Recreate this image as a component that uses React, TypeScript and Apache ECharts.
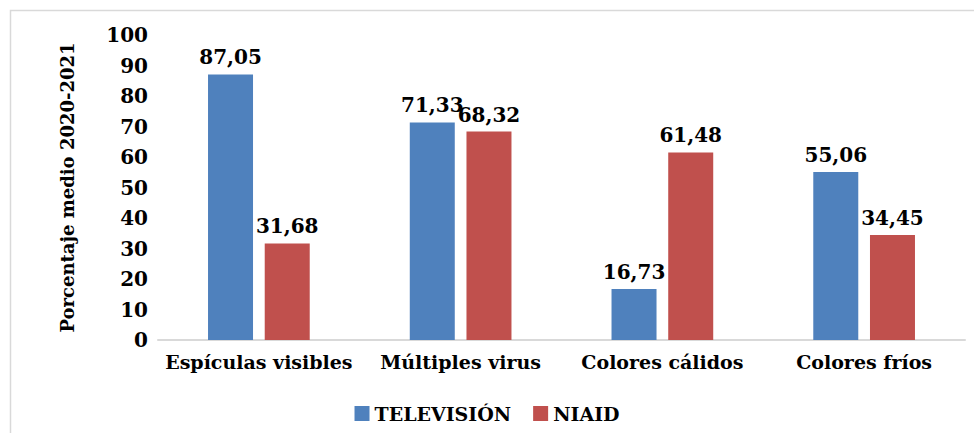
import React, { useEffect, useRef } from "react";
import * as echarts from "echarts";

const categories = ["Espículas visibles", "Múltiples virus", "Colores cálidos", "Colores fríos"];
const television = [87.05, 71.33, 16.73, 55.06];
const niaid = [31.68, 68.32, 61.48, 34.45];
const seriesNames = ["TELEVISIÓN", "NIAID"];

const FONT = "'DejaVu Serif', serif";

export default function App() {
  const ref = useRef<HTMLDivElement>(null);
  useEffect(() => {
    const chart = echarts.init(ref.current!, null, { renderer: "svg" });
    const fmt = (p: any) => Number(p.value).toFixed(2).replace(".", ",");
    const label = {
      show: true,
      position: "top" as const,
      formatter: fmt,
      fontFamily: FONT,
      fontWeight: "bold" as const,
      fontSize: 20,
      color: "#000",
      distance: 7,
    };
    chart.setOption({
      animation: false,
      backgroundColor: "#fff",
      graphic: [
        {
          type: "rect",
          shape: { x: 10.5, y: 10.5, width: 1000, height: 500 },
          style: { fill: "none", stroke: "#d9d9d9", lineWidth: 1.5 },
          silent: true,
        },
      ],
      grid: { left: 158, right: 9, top: 35, bottom: 93 },
      legend: {
        bottom: 5,
        left: "center",
        itemWidth: 15,
        itemHeight: 15,
        itemGap: 22,
        icon: "rect",
        textStyle: { fontFamily: FONT, fontWeight: "bold", fontSize: 19, color: "#000" },
        data: seriesNames,
      },
      xAxis: {
        type: "category",
        data: categories,
        axisLine: { lineStyle: { color: "#d9d9d9", width: 2 } },
        axisTick: { show: false },
        axisLabel: { interval: 0, fontFamily: FONT, fontWeight: "bold", fontSize: 19, color: "#000", margin: 12 },
      },
      yAxis: {
        type: "value",
        min: 0,
        max: 100,
        interval: 10,
        name: "Porcentaje medio 2020-2021",
        nameLocation: "middle",
        nameGap: 82,
        nameTextStyle: { fontFamily: FONT, fontWeight: "bold", fontSize: 18, color: "#000" },
        axisLine: { show: false },
        axisTick: { show: false },
        splitLine: { show: false },
        axisLabel: { fontFamily: FONT, fontWeight: "bold", fontSize: 20, color: "#000", margin: 10 },
      },
      series: [
        {
          name: seriesNames[0],
          type: "bar",
          data: television,
          barWidth: 45,
          barGap: "26%",
          itemStyle: { color: "#4F81BD" },
          label,
        },
        {
          name: seriesNames[1],
          type: "bar",
          data: niaid,
          barWidth: 45,
          itemStyle: { color: "#C0504D" },
          label,
        },
      ],
    });
    return () => chart.dispose();
  }, []);
  return (
    <div
      ref={ref}
      style={{ position: "absolute", left: 0, top: 0, width: 974, height: 433 }}
    />
  );
}
